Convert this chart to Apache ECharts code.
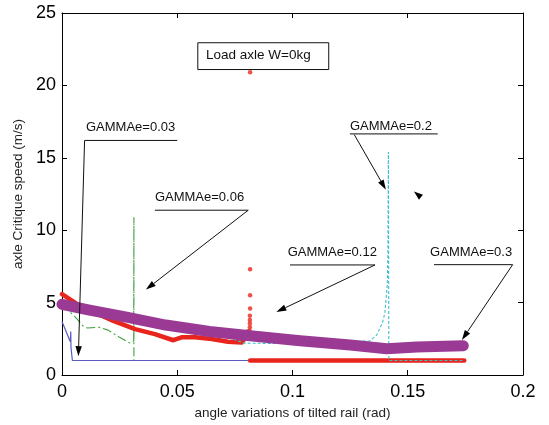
<!DOCTYPE html>
<html>
<head>
<meta charset="utf-8">
<script src="https://cdn.jsdelivr.net/npm/echarts@6/dist/echarts.min.js"></script>
<style>
html,body{margin:0;padding:0;background:#fff;}
#c{width:549px;height:425px;}
</style>
</head>
<body>
<div id="c"></div>
<script>
// ---- data (x = tilt angle in rad, y = critical speed in m/s) ----
const xTicks = [0, 0.05, 0.1, 0.15, 0.2];
const yTicks = [0, 5, 10, 15, 20, 25];

const gamma003 = [[0,3.7],[0.0036,2.3],[0.0038,3.0],[0.0039,1.9],[0.0045,1.0],[0.1745,1.0]];
const gamma006 = [[0,4.9],[0.0064,3.9],[0.009,3.4],[0.011,3.25],[0.016,3.3],[0.02,3.1],[0.025,2.6],[0.0295,2.2],[0.0311,2.35],[0.0312,10.9],[0.0312,1.0],[0.0816,1.0]];
const gamma012Upper = [[0,5.58],[0.0071,4.85],[0.0158,4.2],[0.0223,3.74],[0.0317,3.17],[0.0403,2.82],[0.0483,2.4],[0.0519,2.6],[0.0577,2.6],[0.065,2.48],[0.072,2.3],[0.078,2.25],[0.0797,2.6],[0.0805,3.0]];
const gamma012Spike = [[0.0814,3.05],[0.0815,3.3],[0.0815,3.55],[0.0815,3.8],[0.0815,4.1],[0.0816,4.6],[0.0816,5.5],[0.0816,7.3],[0.0816,20.9]];
const gamma012Lower = [[0.0816,1.0],[0.1745,1.0]];
const gamma02 = [[0,4.9],[0.03,3.9],[0.06,3.0],[0.072,2.6],[0.079,2.2],[0.0915,2.18],[0.11,2.2],[0.1336,2.36],[0.1365,2.75],[0.139,3.6],[0.1401,4.3],[0.1411,6.2],[0.1414,8.3],[0.1416,15.4],[0.1418,1.0],[0.1745,1.0]];
const gamma03 = [[0,4.88],[0.0114,4.5],[0.028,4.0],[0.045,3.45],[0.064,3.0],[0.0816,2.71],[0.1033,2.36],[0.125,2.07],[0.1409,1.81],[0.1539,1.93],[0.1741,2.02]];

// annotations (data coordinates)
const annLabels = ['GAMMAe=0.03','GAMMAe=0.06','GAMMAe=0.12','GAMMAe=0.2','GAMMAe=0.3'];
const annTextAt = [[0.0104,17.1],[0.0403,12.25],[0.0979,8.45],[0.1249,17.17],[0.1597,8.49]];
const annUnderline = [[0.0098,0.050,16.2],[0.0403,0.0808,11.38],[0.0989,0.1358,7.6],[0.1249,0.163,16.65],[0.1614,0.1955,7.62]];
const annArrowFrom = [[0.0098,16.2],[0.0808,11.38],[0.1358,7.6],[0.1268,16.6],[0.1955,7.62]];
const annArrowTo = [[0.0071,1.3],[0.0364,5.9],[0.0930,4.35],[0.1405,12.8],[0.1735,2.42]];
const strayArrowTip = [0.1527,12.67];
const boxLabel = 'Load axle W=0kg';
const boxCorners = [[0.0587,22.98],[0.1155,21.13]];
const boxTextAt = [0.0625,22.05];

const FONT = '"Liberation Sans", Arial, Helvetica, sans-serif';
const chart = echarts.init(document.getElementById('c'), null, {renderer:'canvas'});

const axisCommon = {
  type:'value',
  axisLine:{show:true,onZero:false,lineStyle:{color:'#000',width:1}},
  axisTick:{show:true,inside:true,length:5,lineStyle:{color:'#000'}},
  splitLine:{show:false}
};

chart.setOption({
  animation:false,
  backgroundColor:'#fff',
  grid:{left:62,right:26,top:13,bottom:49,containLabel:false},
  xAxis:[
    Object.assign({}, axisCommon, {
      position:'bottom', min:xTicks[0], max:xTicks[xTicks.length-1], interval:0.05,
      axisLabel:{show:true,fontSize:18,color:'#000',fontFamily:FONT,margin:8,
        formatter:v=>String(+v.toFixed(3))},
      name:'angle variations of tilted rail (rad)', nameLocation:'middle', nameGap:31,
      nameTextStyle:{fontSize:13.5,color:'#222',fontFamily:FONT}
    }),
    Object.assign({}, axisCommon, {
      position:'top', min:xTicks[0], max:xTicks[xTicks.length-1], interval:0.05,
      axisLabel:{show:false}
    })
  ],
  yAxis:[
    Object.assign({}, axisCommon, {
      position:'left', min:yTicks[0], max:yTicks[yTicks.length-1], interval:5,
      axisLabel:{show:true,fontSize:18,color:'#000',fontFamily:FONT,margin:6},
      name:'axle Critique speed (m/s)', nameLocation:'middle', nameGap:30,
      nameTextStyle:{fontSize:13.5,color:'#222',fontFamily:FONT}
    }),
    Object.assign({}, axisCommon, {
      position:'right', min:yTicks[0], max:yTicks[yTicks.length-1], interval:5,
      axisLabel:{show:false}
    })
  ],
  series:[
    {name:'GAMMAe=0.06',type:'line',data:gamma006,showSymbol:false,xAxisIndex:0,yAxisIndex:0,
      lineStyle:{color:'#3f9f3f',width:1.1,type:[9,3,2,3]}},
    {name:'GAMMAe=0.03',type:'line',data:gamma003,showSymbol:false,
      lineStyle:{color:'#5c5cc0',width:1.2}},
    {name:'GAMMAe=0.12',type:'line',data:gamma012Upper,showSymbol:false,
      lineStyle:{color:'#e8251c',width:4.5,cap:'round',join:'round'}},
    {name:'GAMMAe=0.12',type:'line',data:gamma012Lower,showSymbol:false,
      lineStyle:{color:'#e8251c',width:4.5,cap:'round'}},
    {name:'GAMMAe=0.12',type:'scatter',data:gamma012Spike,symbol:'circle',symbolSize:4.5,
      itemStyle:{color:'#e8251c'}},
    {name:'GAMMAe=0.2',type:'line',data:gamma02,showSymbol:false,
      lineStyle:{color:'#3cc0cc',width:1.1,type:[3,2]}},
    {name:'GAMMAe=0.3',type:'line',data:gamma03,showSymbol:false,
      lineStyle:{color:'#9a3a95',width:11,cap:'round',join:'round'}}
  ]
});

function px(p){ return chart.convertToPixel({gridIndex:0}, p); }
function arrowHead(tip, from, L, w){
  const dx = tip[0]-from[0], dy = tip[1]-from[1];
  const len = Math.hypot(dx,dy) || 1;
  const ux = dx/len, uy = dy/len;
  const bx = tip[0]-ux*L, by = tip[1]-uy*L;
  return {pts:[[tip[0],tip[1]],[bx-uy*w,by+ux*w],[bx+uy*w,by-ux*w]], base:[bx,by]};
}

const g = [];
for (let i=0;i<annLabels.length;i++){
  const t = px(annTextAt[i]);
  g.push({type:'text',x:t[0],y:t[1],z:100,style:{text:annLabels[i],fill:'#111',font:'13px '+FONT,textAlign:'left',textVerticalAlign:'middle'}});
  const u = annUnderline[i];
  const a = px([u[0],u[2]]), b = px([u[1],u[2]]);
  g.push({type:'line',z:100,shape:{x1:a[0],y1:a[1],x2:b[0],y2:b[1]},style:{stroke:'#111',lineWidth:1}});
  const f = px(annArrowFrom[i]), tp = px(annArrowTo[i]);
  const h = arrowHead(tp,f,10,3.2);
  g.push({type:'line',z:100,shape:{x1:f[0],y1:f[1],x2:h.base[0],y2:h.base[1]},style:{stroke:'#111',lineWidth:1}});
  g.push({type:'polygon',z:100,shape:{points:h.pts},style:{fill:'#000'}});
}
// stray arrowhead
const st = px(strayArrowTip);
const sh = arrowHead(st,[st[0]+8,st[1]+6.5],9,3.2);
g.push({type:'polygon',z:100,shape:{points:sh.pts},style:{fill:'#000'}});
// load box
const c1 = px(boxCorners[0]), c2 = px(boxCorners[1]);
g.push({type:'rect',z:100,shape:{x:c1[0]+0.5,y:c1[1]+0.5,width:c2[0]-c1[0],height:c2[1]-c1[1]},style:{fill:'#fff',stroke:'#111',lineWidth:1}});
const bt = px(boxTextAt);
g.push({type:'text',z:101,x:bt[0],y:bt[1],style:{text:boxLabel,fill:'#111',font:'13.5px '+FONT,textAlign:'left',textVerticalAlign:'middle'}});

chart.setOption({graphic:g});
</script>
</body>
</html>
